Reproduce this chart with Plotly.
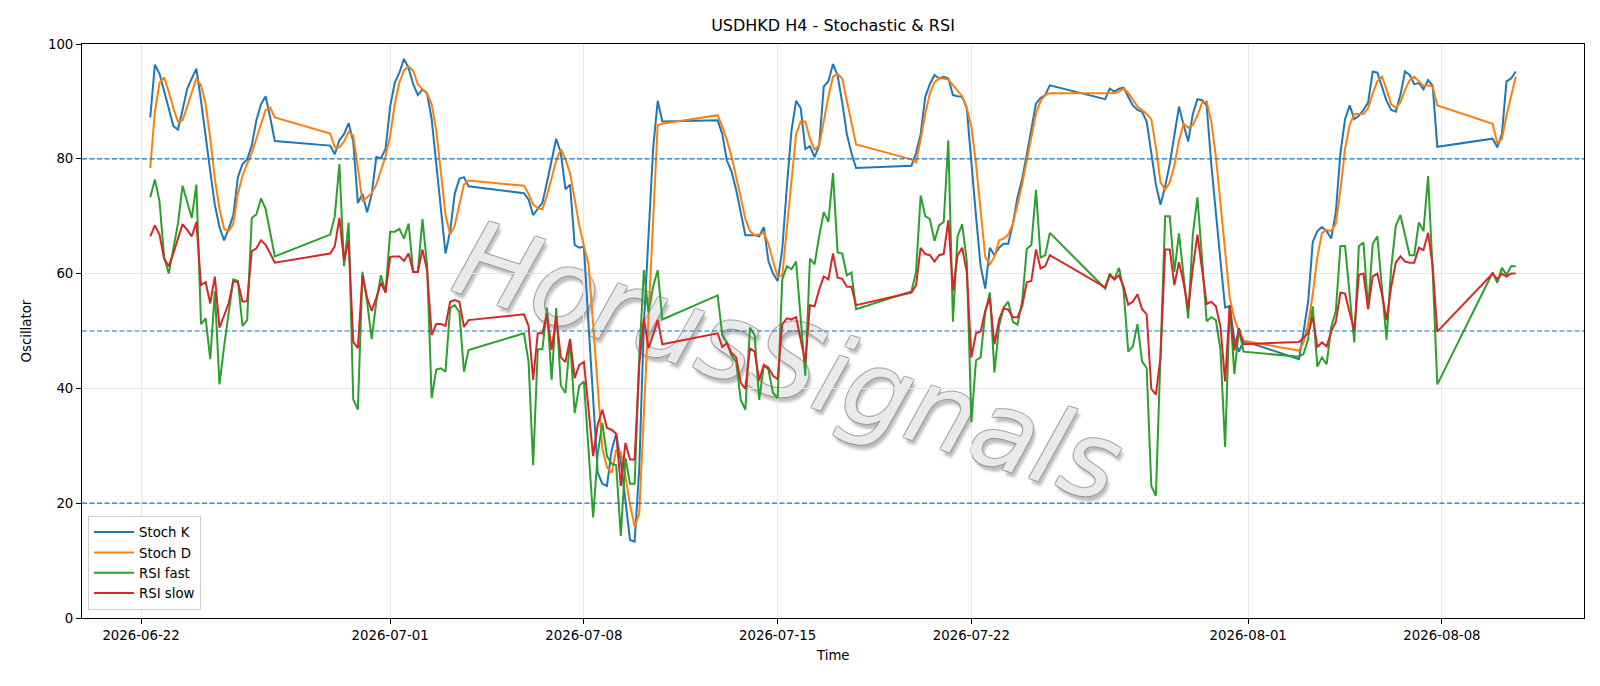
import pandas as pd
import plotly.graph_objects as go

# ---- bar timestamps (H4 bars: Mon-Fri every 4h, plus the Sunday 20:00 open bar) ----
bar_start = "2026-06-22 08:00"
bar_end = "2026-08-10 16:00"
_all = pd.date_range(bar_start, bar_end, freq="4h")
times = [t for t in _all if t.weekday() < 5 or (t.weekday() == 6 and t.hour == 20)]

# ---- series values (one row per trading week) ----
stoch_k = [
    87.2, 96.4, 94.8, 92.0, 88.8, 85.7, 85.1, 88.5, 92.2, 94.0, 95.7, 90.1, 83.6, 77.8,
    72.0, 68.1, 65.8, 67.8, 70.2, 76.8, 79.1, 79.9, 82.3, 86.7, 89.5, 90.9, 87.2, 83.1,
    82.3, 80.8, 83.3, 84.3, 86.2, 83.0, 72.3, 73.9, 70.7, 73.8, 80.3, 80.1, 81.7, 89.1, 93.3, 95.0,
    97.4, 95.8, 93.0, 91.1, 92.1, 91.4, 86.9, 79.1, 71.6, 63.5, 67.4, 73.9, 76.5, 76.8, 75.2,
    74.0, 72.9, 70.2, 71.3, 72.3, 75.9, 79.7, 83.5, 81.0, 74.7, 75.5, 65.0, 64.5, 64.7, 51.2,
    38.3, 25.3, 23.4, 23.0, 29.2, 32.1, 27.3, 20.1, 13.6, 13.3, 26.0, 51.2, 66.8, 81.7, 90.1, 86.5,
    86.7, 84.3, 79.7, 77.8, 74.6, 70.7, 66.7, 66.7, 66.7, 66.5, 68.1, 62.2, 60.0, 58.7, 64.2,
    75.2, 84.9, 90.1, 88.8, 81.7, 82.2, 80.3, 82.3, 92.6, 93.5, 96.5, 94.5, 89.8, 84.3, 81.0, 78.4,
    78.8, 81.0, 84.3, 90.8, 93.0, 94.6, 94.0, 94.3, 94.0, 91.1, 90.9, 90.8, 88.8, 79.1, 70.0,
    61.3, 57.4, 64.5, 63.2, 64.5, 65.2, 65.2, 68.7, 73.3, 76.5, 80.7, 84.9, 89.6, 90.6, 91.1, 92.8,
    90.4, 92.2, 91.7, 92.2, 92.4, 90.8, 89.3, 88.5, 88.2, 86.5, 81.0, 75.5, 72.0, 75.2, 79.1,
    84.3, 89.1, 85.9, 83.0, 87.8, 90.4, 90.2, 89.3, 79.1, 70.0, 62.2, 54.1, 54.3, 48.6, 46.4, 48.3,
    45.1, 49.9, 55.1, 65.5, 67.4, 68.1, 67.4, 66.1, 70.7, 81.0, 86.9, 89.3, 86.9, 87.5, 88.5,
    89.8, 95.2, 95.0, 92.7, 90.1, 88.5, 88.2, 91.1, 95.2, 94.6, 93.0, 93.2, 92.1, 93.7, 92.7, 82.1,
    83.5, 82.0, 84.3, 93.5, 94.0, 95.2,
]
stoch_d = [
    78.4, 88.2, 93.2, 94.2, 91.7, 88.8, 86.5, 86.7, 89.1, 91.7, 94.0, 92.8, 89.5, 83.6,
    76.5, 71.3, 67.8, 67.4, 68.7, 73.9, 77.1, 79.1, 81.0, 83.5, 85.9, 88.5, 88.9, 87.2,
    84.4, 82.0, 82.0, 83.0, 84.7, 84.0, 78.4, 72.6, 73.3, 74.0, 75.5, 78.1, 80.4, 84.0, 89.5, 93.3,
    95.4, 96.1, 95.3, 93.0, 92.1, 91.4, 89.5, 84.9, 77.8, 70.3, 66.8, 68.4, 72.0, 75.5, 76.2,
    75.3, 73.9, 72.0, 71.4, 71.2, 73.6, 76.5, 79.7, 81.7, 79.9, 77.5, 72.6, 68.4, 64.8, 61.6,
    51.2, 40.9, 29.5, 26.3, 25.3, 29.2, 28.9, 24.7, 19.8, 15.9, 18.2, 35.7, 53.2, 69.4, 85.9, 86.1,
    87.6, 85.6, 83.3, 80.4, 77.1, 73.3, 69.5, 67.4, 66.7, 66.8, 67.1, 65.2, 62.2, 59.4, 59.7,
    68.1, 77.1, 84.3, 86.5, 86.5, 83.5, 81.6, 82.3, 86.5, 90.8, 94.3, 94.8, 94.0, 90.1, 86.2, 82.5,
    79.9, 79.4, 83.3, 87.8, 91.4, 93.3, 94.0, 94.0, 93.8, 92.8, 91.7, 90.9, 88.9, 85.6, 79.1,
    71.0, 62.9, 61.6, 62.9, 65.8, 66.1, 66.8, 68.7, 72.0, 75.5, 79.7, 84.0, 87.8, 90.1, 91.1, 91.4,
    91.4, 91.4, 91.4, 91.7, 92.2, 91.5, 90.4, 89.1, 88.5, 87.8, 86.9, 82.0, 75.9, 74.6, 75.9,
    78.8, 83.2, 86.1, 85.4, 85.9, 87.5, 89.8, 90.0, 86.5, 80.4, 72.0, 62.9, 55.8, 52.2, 49.9, 48.3,
    46.6, 48.0, 51.2, 56.4, 62.9, 67.1, 67.6, 67.4, 68.7, 74.6, 81.7, 85.9, 87.8, 87.8, 87.8,
    88.8, 91.4, 93.5, 94.3, 92.1, 89.5, 88.9, 89.8, 92.0, 93.7, 94.3, 93.5, 92.7, 92.8, 92.6, 89.3,
    86.1, 82.7, 83.5, 87.5, 90.8, 94.3,
]
rsi_fast = [
    73.3, 76.4, 72.6, 62.9, 60.0, 64.2, 68.7, 75.3, 72.6, 69.7, 75.5, 51.2, 52.2, 45.1,
    56.9, 40.7, 47.3, 53.2, 59.0, 58.7, 50.9, 51.9, 69.7, 70.3, 73.1, 71.3, 67.4, 63.0,
    66.8, 70.0, 79.1, 61.3, 68.9, 38.1, 36.3, 60.3, 55.1, 48.6, 55.1, 59.7, 56.7, 67.3, 67.3, 67.8,
    66.1, 68.7, 60.3, 60.3, 69.5, 61.6, 38.3, 43.3, 43.5, 42.9, 54.0, 54.5, 53.3, 42.9, 46.7,
    49.6, 44.7, 26.6, 46.8, 46.8, 54.1, 41.5, 54.0, 40.5, 39.2, 48.6, 35.7, 40.5, 41.2, 28.6,
    17.5, 28.6, 34.0, 28.2, 26.9, 26.6, 14.3, 27.9, 23.4, 23.4, 45.4, 60.6, 53.2, 57.7, 60.6, 52.0,
    56.2, 49.3, 48.0, 45.7, 44.6, 38.0, 36.3, 50.6, 49.3, 38.0, 44.0, 43.3, 39.2, 38.3, 59.0,
    61.3, 60.8, 62.1, 51.9, 42.2, 62.6, 61.6, 66.5, 70.7, 69.0, 77.5, 63.7, 63.5, 59.7, 60.2, 53.8,
    56.9, 60.3, 73.6, 70.0, 69.5, 65.7, 68.4, 69.0, 83.2, 51.6, 66.5, 68.6, 62.2, 34.1, 44.9,
    45.4, 53.2, 56.7, 42.8, 50.9, 54.1, 55.1, 51.6, 51.1, 55.1, 64.3, 65.0, 74.6, 62.8, 63.2, 67.1,
    57.4, 60.0, 59.0, 61.0, 57.1, 46.4, 47.3, 51.2, 44.7, 43.5, 23.0, 21.3, 46.0, 70.0, 70.0,
    60.3, 67.0, 59.0, 52.2, 66.8, 73.3, 62.6, 51.7, 52.4, 51.9, 46.7, 29.8, 54.5, 42.5, 50.3, 46.4,
    45.5, 46.0, 48.6, 54.3, 43.8, 45.4, 44.2, 50.6, 53.5, 64.8, 64.8, 55.8, 48.0, 64.8, 65.4,
    53.8, 65.2, 66.5, 57.1, 48.5, 61.0, 68.3, 70.2, 66.5, 63.2, 63.2, 68.9, 67.4, 77.0, 60.3, 40.7,
    60.2, 58.4, 61.0, 59.8, 61.3, 61.3,
]
rsi_slow = [
    66.5, 68.4, 66.8, 62.6, 61.3, 63.5, 66.1, 68.6, 67.6, 66.5, 69.0, 58.0, 58.5, 54.8,
    59.5, 50.6, 52.7, 54.8, 58.7, 58.5, 55.1, 55.2, 63.9, 64.4, 65.8, 65.0, 63.5, 61.9,
    63.5, 64.8, 69.7, 62.2, 65.8, 48.1, 47.0, 59.7, 55.8, 53.5, 55.8, 58.4, 56.7, 62.9, 63.0, 63.0,
    62.2, 63.5, 60.3, 60.3, 64.2, 60.6, 49.3, 51.2, 51.2, 50.9, 55.1, 55.4, 55.1, 50.7, 51.9,
    52.9, 50.9, 41.5, 49.6, 49.6, 52.9, 46.7, 52.5, 45.4, 44.6, 48.6, 41.8, 44.1, 44.6, 37.0,
    28.2, 33.7, 36.3, 33.1, 32.8, 32.1, 23.0, 30.5, 27.6, 27.6, 44.1, 52.2, 47.0, 49.3, 51.9, 47.7,
    49.6, 47.2, 47.9, 46.2, 45.4, 41.0, 39.9, 47.0, 46.4, 41.4, 44.1, 43.6, 42.2, 41.6, 51.2,
    52.2, 52.0, 52.4, 48.6, 44.6, 54.5, 54.3, 57.2, 59.5, 59.0, 63.5, 59.3, 59.1, 57.7, 57.7, 54.5,
    56.7, 58.0, 64.5, 63.4, 63.2, 62.1, 63.2, 63.4, 69.3, 57.1, 63.2, 64.5, 60.3, 45.4, 49.6,
    49.9, 53.5, 55.8, 47.7, 52.0, 54.0, 53.7, 52.4, 52.4, 54.3, 58.5, 58.7, 64.2, 60.9, 61.3, 63.2,
    57.6, 59.7, 59.0, 59.7, 57.7, 54.6, 55.1, 56.4, 53.8, 52.9, 39.9, 38.9, 45.4, 64.2, 64.2,
    58.0, 62.0, 58.4, 53.8, 61.0, 66.8, 61.0, 54.7, 55.1, 54.3, 50.7, 41.2, 54.5, 46.6, 50.5, 47.7,
    48.1, 48.8, 49.6, 52.4, 47.2, 48.0, 47.3, 49.9, 51.6, 56.7, 56.5, 53.2, 50.1, 59.8, 60.0,
    53.8, 59.5, 60.0, 56.4, 51.9, 57.7, 61.9, 63.0, 62.1, 61.9, 61.9, 64.5, 64.1, 67.1, 61.3, 49.9,
    60.0, 59.0, 60.0, 59.5, 60.0, 60.0,
]

series_names = ["Stoch K", "Stoch D", "RSI fast", "RSI slow"]
series_colors = ["#1f77b4", "#ff7f0e", "#2ca02c", "#d62728"]
ref_levels = [80, 50, 20]
x_tick_dates = ["2026-06-22", "2026-07-01", "2026-07-08", "2026-07-15",
                "2026-07-22", "2026-08-01", "2026-08-08"]
y_tick_vals = [0, 20, 40, 60, 80, 100]
title_text = "USDHKD H4 - Stochastic & RSI"
watermark = "HorusSignals"

FONT = "DejaVu Sans"

fig = go.Figure()
for name, vals, col in zip(series_names, [stoch_k, stoch_d, rsi_fast, rsi_slow], series_colors):
    fig.add_trace(go.Scatter(x=times, y=vals, mode="lines", name=name,
                             line=dict(color=col, width=2)))

for lv in ref_levels:
    fig.add_shape(type="line", xref="paper", yref="y", x0=0, x1=1, y0=lv, y1=lv,
                  line=dict(color="#1f77b4", width=1.2, dash="5px,2.5px"), layer="above")

# x range with matplotlib-like 5% margins
tmin, tmax = min(times), max(times)
pad = (tmax - tmin) * 0.05
x_range = [tmin - pad, tmax + pad]

# watermark (drawn below the data): light fill with grey outline and soft drop shadow
wm_cx, wm_cy = 0.472, 0.46
wm_shadow = ("-1px -1px 0 rgba(150,150,150,0.7), 1px -1px 0 rgba(150,150,150,0.7), "
             "-1px 1px 0 rgba(150,150,150,0.7), 1px 1px 0 rgba(150,150,150,0.7), "
             "4px 4px 3px rgba(0,0,0,0.28)")
fig.add_shape(type="rect", xref="paper", yref="paper",
              x0=wm_cx - 0.2, x1=wm_cx + 0.2, y0=wm_cy - 0.2, y1=wm_cy + 0.2,
              line=dict(width=0), fillcolor="rgba(0,0,0,0)", layer="below",
              label=dict(text=watermark, textangle=18, textposition="middle center",
                         font=dict(family=FONT, size=106, color="rgba(238,238,238,0.95)",
                                   style="italic", shadow=wm_shadow)))

fig.update_layout(
    width=1600, height=686,
    margin=dict(l=82, r=16, t=44, b=68),
    paper_bgcolor="white", plot_bgcolor="white",
    font=dict(family=FONT, size=13, color="black"),
    title=dict(text=title_text, x=0.5, xref="paper", y=1 - 25.5 / 686, yanchor="middle",
               font=dict(family=FONT, size=16, color="black")),
    showlegend=True,
    legend=dict(x=0.004, y=0.014, xanchor="left", yanchor="bottom",
                bgcolor="rgba(255,255,255,0.8)", bordercolor="#cccccc", borderwidth=1,
                font=dict(family=FONT, size=13.3, color="black"), itemwidth=40,
                tracegroupgap=0),
)
fig.update_xaxes(type="date", range=x_range,
                 tickvals=pd.to_datetime(x_tick_dates), ticktext=x_tick_dates,
                 showgrid=True, gridcolor="#e7e7e7", gridwidth=1,
                 showline=True, linecolor="black", linewidth=1, mirror=True,
                 ticks="outside", ticklen=5, tickcolor="black",
                 tickfont=dict(family=FONT, size=13.3), zeroline=False)
fig.update_yaxes(range=[0, 100], tickvals=y_tick_vals,
                 showgrid=True, gridcolor="#e7e7e7", gridwidth=1,
                 showline=True, linecolor="black", linewidth=1, mirror=True,
                 ticks="outside", ticklen=5, tickcolor="black",
                 tickfont=dict(family=FONT, size=13.3), zeroline=False)

fig.add_annotation(text="Time", xref="paper", yref="paper", x=0.5, y=-(656 - 618) / 574,
                   showarrow=False, yanchor="middle", font=dict(family=FONT, size=13.3))
fig.add_annotation(text="Oscillator", xref="paper", yref="paper", x=-(82 - 25.5) / 1502,
                   y=0.5, showarrow=False, textangle=-90, xanchor="center",
                   font=dict(family=FONT, size=13.3))

fig.write_html("out.html", include_plotlyjs=True, config={"displayModeBar": False},
               post_script="document.body.style.margin='0';document.body.style.overflow='hidden';")
